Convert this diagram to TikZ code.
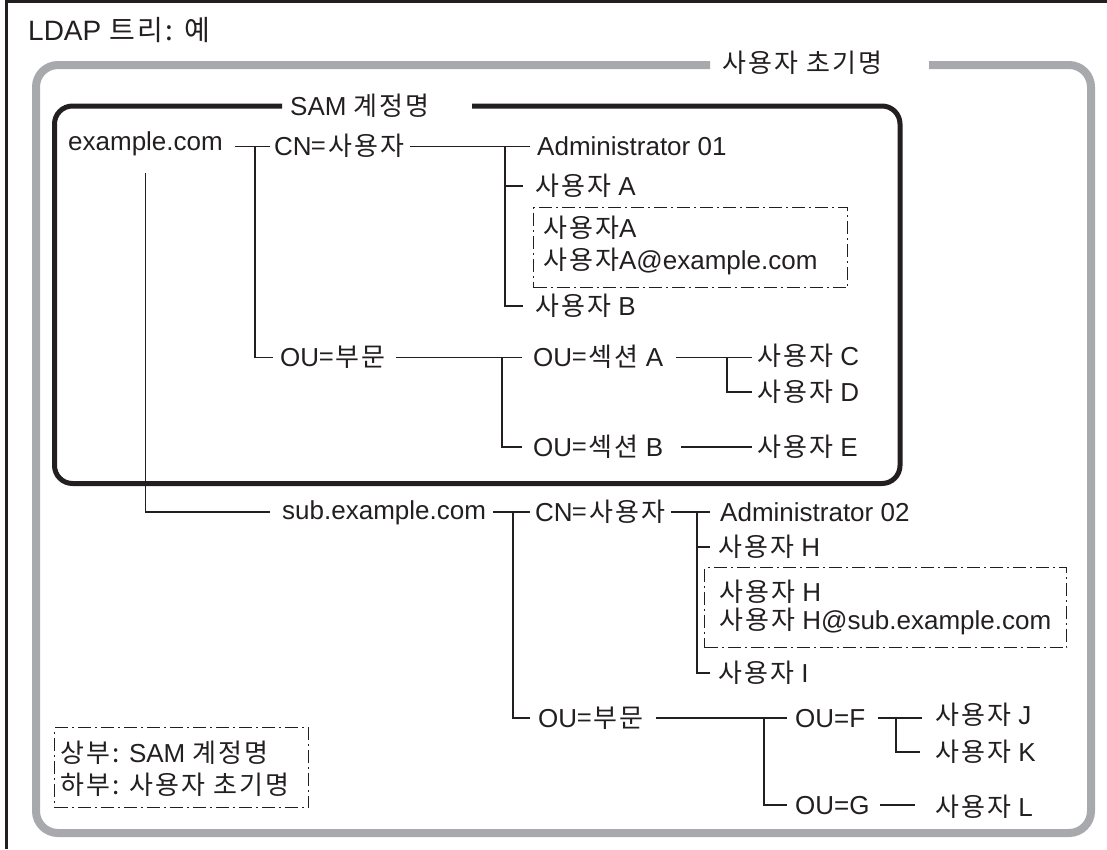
\documentclass[tikz,border=0pt]{standalone}
\usepackage{fontspec}
\setmainfont{Liberation Sans}
\newfontfamily\kr[Scale=1.0,LetterSpace=8]{Noto Sans CJK KR}
\newcommand\fs{\fontsize{26}{30}\selectfont}
\definecolor{ink}{HTML}{231F20}
\definecolor{frameg}{HTML}{A7A9AC}
\tikzset{
  lbl/.style={anchor=west, inner sep=0pt, text height=18.6pt, text depth=0pt, font=\fs, text=ink},
  conn/.style={draw=ink, line width=1.2pt},
  ddbox/.style={draw=ink, line width=1.1pt, dash pattern=on 13pt off 4pt on 2pt off 4pt, anchor=north west, inner sep=0pt},
}
\begin{document}
\begin{tikzpicture}[x=1pt,y=-1pt]
\useasboundingbox (0,0) rectangle (1107,849);
% page border (top and left)
\draw[ink, line width=3pt] (6,849) -- (6,1.5) -- (1107,1.5);
% frames
\draw[frameg, line width=8pt, rounded corners=22pt] (710,65) -- (36,65) -- (36,833) -- (1091,833) -- (1091,65) -- (929,65);
\draw[ink, line width=5pt, rounded corners=18pt] (282,106) -- (54.5,106) -- (54.5,483.5) -- (900,483.5) -- (900,106) -- (472,106);
% titles
\node[lbl, font=\fontsize{28}{32}\selectfont] (title) at (28,31) {LDAP {\kr 트리: 예}};
\node[lbl] (init) at (722,63) {\kr 사용자 초기명};
\node[lbl] (sam) at (290,106) {SAM {\kr 계정명}};
% upper tree
\node[lbl] (ex) at (68,141.5) {example.com};
\node[lbl] (cn1) at (274,146.5) {CN{\kr=사용자}};
\node[lbl] (adm1) at (537,146.5) {Administrator 01};
\node[lbl] (ua) at (535,186) {{\kr 사용자} A};
\node[ddbox, minimum width=314pt, minimum height=80pt] (box1) at (533,207) {};
\node[lbl] (ba1) at (543,228) {{\kr 사용자}A};
\node[lbl] (ba2) at (543,260) {{\kr 사용자}A@example.com};
\node[lbl] (ub) at (535,306) {{\kr 사용자} B};
\node[lbl] (ou1) at (280,357.5) {OU{\kr=부문}};
\node[lbl] (seca) at (533,357.5) {OU{\kr=섹션} A};
\node[lbl] (uc) at (757,356) {{\kr 사용자} C};
\node[lbl] (ud) at (757,392) {{\kr 사용자} D};
\node[lbl] (secb) at (533,447) {OU{\kr=섹션} B};
\node[lbl] (ue) at (757,447) {{\kr 사용자} E};
% lower tree
\node[lbl] (sub) at (282,510) {sub.example.com};
\node[lbl] (cn2) at (535,512) {CN{\kr=사용자}};
\node[lbl] (adm2) at (720,512) {Administrator 02};
\node[lbl] (uh) at (718,547) {{\kr 사용자} H};
\node[ddbox, minimum width=362pt, minimum height=80pt] (box2) at (704,567) {};
\node[lbl] (bh1) at (719,592) {{\kr 사용자} H};
\node[lbl] (bh2) at (719,620) {{\kr 사용자} H@sub.example.com};
\node[lbl] (ui) at (718,673) {{\kr 사용자} I};
\node[lbl] (ou2) at (538,718) {OU{\kr=부문}};
\node[lbl] (ouf) at (795,718) {OU=F};
\node[lbl] (uj) at (935,715) {{\kr 사용자} J};
\node[lbl] (uk) at (935,752) {{\kr 사용자} K};
\node[lbl] (oug) at (795,805) {OU=G};
\node[lbl] (ul) at (935,807) {{\kr 사용자} L};
% legend
\node[ddbox, minimum width=254pt, minimum height=80pt] (legend) at (54,727) {};
\node[lbl] (lg1) at (60,753) {{\kr 상부:} SAM {\kr 계정명}};
\node[lbl] (lg2) at (60,785) {\kr 하부: 사용자 초기명};
% junctions
\coordinate (j1) at (255,146.5);
\coordinate (j2) at (505,146.5);
\coordinate (j3) at (502,357.5);
\coordinate (j4) at (727,357.5);
\coordinate (j5) at (513,512);
\coordinate (j6) at (697,512);
\coordinate (j7) at (764,718);
\coordinate (j8) at (896,718);
% upper connectors
\draw[conn] ([xshift=12pt]ex.east |- cn1.west) -- ([xshift=-4pt]cn1.west);
\draw[conn] (j1) |- ([xshift=-7pt]ou1.west);
\draw[conn] ([xshift=6pt]cn1.east) -- ([xshift=-7pt]adm1.west);
\draw[conn] (j2) |- ([xshift=-12pt]ua.west);
\draw[conn] (j2) |- ([xshift=-12pt]ub.west);
\draw[conn] ([xshift=10pt]ou1.east) -- ([xshift=-11pt]seca.west);
\draw[conn] (j3) |- ([xshift=-11pt]secb.west);
\draw[conn] ([xshift=13pt]seca.east) -- ([xshift=-5pt]uc.west |- seca.east);
\draw[conn] (j4) |- ([xshift=-5pt]ud.west);
\draw[conn] ([xshift=18pt]secb.east) -- ([xshift=-5pt]ue.west);
% domain link
\draw[conn] ([yshift=-22pt]ex.south) |- ([xshift=-12pt]sub.west |- cn2.west);
% lower connectors
\draw[conn] ([xshift=7pt]sub.east |- cn2.west) -- ([xshift=-5pt]cn2.west);
\draw[conn] (j5) |- ([xshift=-8pt]ou2.west);
\draw[conn] ([xshift=6pt]cn2.east) -- ([xshift=-10pt]adm2.west);
\draw[conn] (j6) |- ([xshift=-8pt]uh.west);
\draw[conn] (j6) |- ([xshift=-8pt]ui.west);
\draw[conn] ([xshift=12pt]ou2.east) -- ([xshift=-8pt]ouf.west);
\draw[conn] (j7) |- ([xshift=-8pt]oug.west);
\draw[conn] ([xshift=13pt]ouf.east) -- ([xshift=-13pt]uj.west |- ouf.east);
\draw[conn] (j8) |- ([xshift=-15pt]uk.west);
\draw[conn] ([xshift=10pt]oug.east) -- ([xshift=-20pt]ul.west |- oug.east);
\end{tikzpicture}
\end{document}
